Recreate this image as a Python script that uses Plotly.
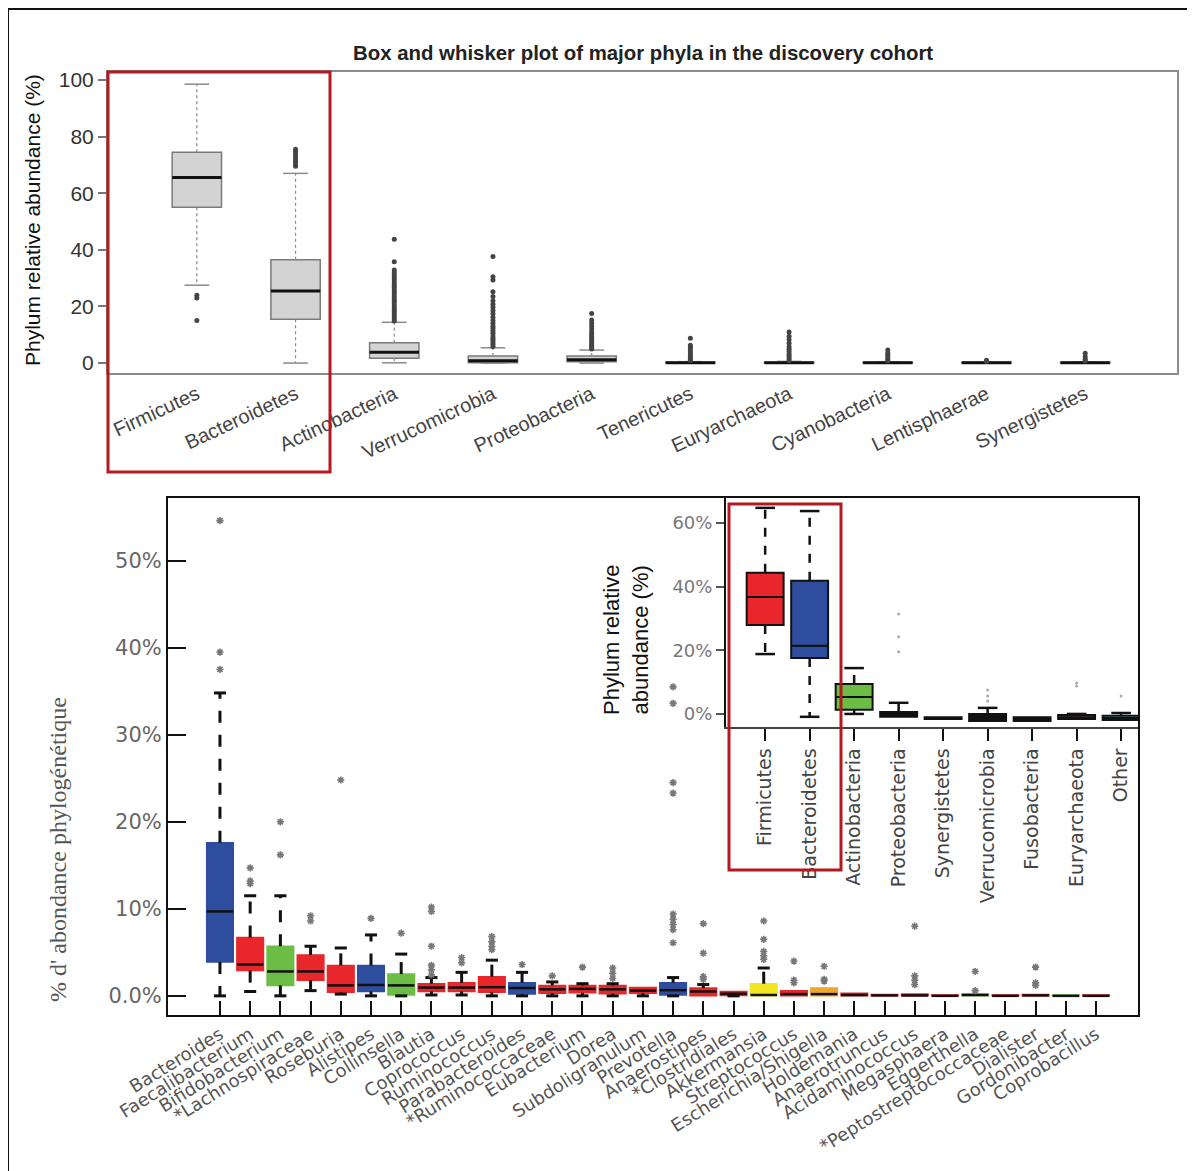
import plotly.graph_objects as go

W, H = 1195, 1171

# ---------------- top chart: discovery cohort (gray boxes) ----------------
top_phyla = ["Firmicutes", "Bacteroidetes", "Actinobacteria", "Verrucomicrobia", "Proteobacteria",
             "Tenericutes", "Euryarchaeota", "Cyanobacteria", "Lentisphaerae", "Synergistetes"]
top_q1 = [55.0, 15.5, 1.7, 0.1, 0.5, 0.0, 0.0, 0.0, 0.0, 0.0]
top_med = [65.5, 25.5, 3.8, 0.8, 1.2, 0.1, 0.1, 0.1, 0.1, 0.1]
top_q3 = [74.5, 36.5, 7.2, 2.5, 2.5, 0.3, 0.3, 0.3, 0.3, 0.3]
top_lo = [27.5, 0.0, 0.1, 0.0, 0.0, 0.0, 0.0, 0.0, 0.0, 0.0]
top_hi = [98.5, 67.0, 14.4, 5.4, 4.6, 0.5, 0.6, 0.4, 0.3, 0.4]
top_out = [
    [24.0, 23.0, 15.0],
    [69.5, 70.4, 71.3, 72.2, 73.0, 73.9, 74.8, 75.5],
    [14.9, 15.6, 16.4, 17.1, 17.9, 18.6, 19.4, 20.2, 21.0, 21.8, 22.5, 23.3, 24.1, 25.0,
     25.8, 26.7, 27.5, 28.4, 29.3, 30.1, 31.0, 32.0, 32.9, 35.8, 43.7],
    [5.9, 6.6, 7.3, 8.1, 8.8, 9.6, 10.5, 11.3, 12.2, 13.0, 14.1, 15.0, 16.2, 17.4, 18.6,
     19.7, 20.8, 22.0, 23.5, 25.2, 29.3, 30.5, 37.6],
    [5.0, 5.6, 6.3, 7.0, 7.8, 8.5, 9.3, 10.1, 11.0, 12.0, 13.1, 14.2, 15.2, 17.5],
    [0.9, 1.4, 2.0, 2.7, 3.3, 4.0, 4.8, 5.6, 6.3, 8.8],
    [0.8, 1.5, 2.3, 3.1, 4.0, 4.9, 5.8, 7.0, 8.2, 9.5, 11.0],
    [0.7, 1.3, 2.0, 2.8, 3.5, 4.6],
    [0.6, 1.0],
    [0.7, 1.4, 2.2, 3.5],
]
top_ticks = [0, 20, 40, 60, 80, 100]

# ---------------- bottom main chart: genera ----------------
genera = ["Bacteroides", "Faecalibacterium", "Bifidobacterium", "*Lachnospiraceae", "Roseburia",
          "Alistipes", "Collinsella", "Blautia", "Coprococcus", "Ruminococcus",
          "Parabacteroides", "*Ruminococcaceae", "Eubacterium", "Dorea", "Subdoligranulum",
          "Prevotella", "Anaerostipes", "*Clostridiales", "Akkermansia", "Streptococcus",
          "Escherichia/Shigella", "Holdemania", "Anaerotruncus", "Acidaminococcus", "Megasphaera",
          "Eggerthella", "*Peptostreptococcaceae", "Dialister", "Gordonibacter", "Coprobacillus"]
genus_phylum = ["Bacteroidetes", "Firmicutes", "Actinobacteria", "Firmicutes", "Firmicutes",
                "Bacteroidetes", "Actinobacteria", "Firmicutes", "Firmicutes", "Firmicutes",
                "Bacteroidetes", "Firmicutes", "Firmicutes", "Firmicutes", "Firmicutes",
                "Bacteroidetes", "Firmicutes", "Firmicutes", "Verrucomicrobia", "Firmicutes",
                "Proteobacteria", "Firmicutes", "Firmicutes", "Firmicutes", "Firmicutes",
                "Actinobacteria", "Firmicutes", "Firmicutes", "Actinobacteria", "Firmicutes"]
gen_q1 = [3.9, 2.9, 1.2, 1.8, 0.4, 0.5, 0.1, 0.5, 0.5, 0.4, 0.2, 0.3, 0.35, 0.25, 0.3,
          0.1, 0.0, 0.05, 0.0, 0.0, 0.0, 0.0, 0.0, 0.0, 0.0, 0.0, 0.0, 0.0, 0.0, 0.0]
gen_med = [9.7, 3.6, 2.8, 2.8, 1.2, 1.25, 1.2, 0.95, 0.95, 1.0, 0.9, 0.75, 0.8, 0.75, 0.6,
           0.65, 0.5, 0.25, 0.1, 0.2, 0.2, 0.1, 0.05, 0.05, 0.0, 0.1, 0.0, 0.05, 0.0, 0.0]
gen_q3 = [17.6, 6.7, 5.7, 4.7, 3.5, 3.5, 2.5, 1.4, 1.5, 2.2, 1.5, 1.2, 1.2, 1.2, 0.95,
          1.5, 0.9, 0.5, 1.4, 0.6, 0.9, 0.3, 0.15, 0.2, 0.1, 0.2, 0.1, 0.15, 0.1, 0.1]
gen_lo = [0.0, 0.5, 0.0, 0.6, 0.2, 0.0, 0.0, 0.1, 0.1, 0.0, 0.0, 0.0, 0.0, 0.0, 0.0,
          0.0, 0.0, 0.0, 0.0, 0.0, 0.0, 0.0, 0.0, 0.0, 0.0, 0.0, 0.0, 0.0, 0.0, 0.0]
gen_hi = [34.8, 11.5, 11.5, 5.7, 5.5, 7.0, 4.8, 2.1, 2.7, 4.1, 2.7, 1.6, 1.4, 1.4, 0.95,
          2.1, 1.3, 0.5, 3.2, 0.6, 0.9, 0.3, 0.15, 0.2, 0.1, 0.2, 0.1, 0.15, 0.1, 0.1]
gen_out = [
    [54.6, 39.5, 37.5], [14.7, 13.2, 12.9], [20.0, 16.2], [9.2, 8.6], [24.8],
    [8.9], [7.2], [10.2, 9.7, 5.7, 3.5, 3.0, 2.4], [4.4, 3.8], [6.8, 6.2, 5.7, 5.3],
    [3.6], [2.3], [3.3], [3.2, 2.6, 2.0], [],
    [35.5, 33.6, 24.5, 23.3, 9.4, 8.8, 8.2, 7.6, 6.1], [8.3, 4.9, 2.2, 1.9], [],
    [8.6, 6.5, 5.1, 4.6, 4.2], [4.0, 1.8, 1.5],
    [3.4, 1.9, 1.7], [], [], [8.0, 2.3, 1.8, 1.3], [],
    [2.8, 0.6], [], [3.3, 1.5, 1.2], [], [],
]
gen_ticks = [0, 10, 20, 30, 40, 50]
gen_ticktext = ["0.0%", "10%", "20%", "30%", "40%", "50%"]

# ---------------- inset chart: phyla ----------------
ins_phyla = ["Firmicutes", "Bacteroidetes", "Actinobacteria", "Proteobacteria", "Synergistetes",
             "Verrucomicrobia", "Fusobacteria", "Euryarchaeota", "Other"]
ins_q1 = [27.9, 17.6, 1.3, -0.9, -1.6, -2.2, -2.2, -1.6, -1.9]
ins_med = [36.7, 21.4, 5.3, 0.0, -1.3, -0.5, -1.6, -1.0, -1.3]
ins_q3 = [44.3, 41.8, 9.4, 0.6, -1.0, 0.0, -1.0, -0.3, -0.6]
ins_lo = [18.8, -0.9, 0.0, -0.9, -1.6, -2.2, -2.2, -1.6, -1.9]
ins_hi = [64.7, 63.7, 14.4, 3.5, -1.0, 1.9, -1.0, 0.0, 0.3]
ins_out = [[], [], [], [31.4, 24.2, 19.5], [], [7.5, 5.6, 4.1], [], [9.7, 8.8], [5.6]]
ins_ticks = [0, 20, 40, 60]
ins_ticktext = ["0%", "20%", "40%", "60%"]

phylum_color = {"Firmicutes": "#e8262b", "Bacteroidetes": "#2f4d9e", "Actinobacteria": "#6cbd45",
                "Verrucomicrobia": "#f2e522", "Proteobacteria": "#f0a52e"}
ins_fill = ["#e8262b", "#2f4d9e", "#6cbd45", "#111111", "#8d3fb5", "#111111", "#1e7f3a",
            "#f4a6c8", "#4fd0e0"]

# the page body keeps an 8px margin: figure pixel = page pixel - 8
OFF = 8


def fx(p):
    return (p - OFF) / W


def fy(p):
    return 1 - (p - OFF) / H


fig = go.Figure()


def draw_boxes(xa, ya, q1, med, q3, lo, hi, outs, fills, lines, bw, cw, lw,
               med_w, wh_color, wh_w, wh_dash, cap_w, out_marker):
    n = len(q1)
    for i in range(n):
        fig.add_trace(go.Box(
            x=[i], q1=[q1[i]], median=[med[i]], q3=[q3[i]],
            lowerfence=[q1[i]], upperfence=[q3[i]], orientation="v",
            width=bw, whiskerwidth=0, fillcolor=fills[i],
            line=dict(color=lines[i], width=lw), boxpoints=False,
            xaxis=xa, yaxis=ya, showlegend=False, hoverinfo="skip"))
    mx, my, wx, wy, cx, cy, ox, oy = [], [], [], [], [], [], [], []
    for i in range(n):
        mx += [i - bw / 2, i + bw / 2, None]
        my += [med[i], med[i], None]
        if hi[i] > q3[i]:
            wx += [i, i, None]
            wy += [q3[i], hi[i], None]
            cx += [i - cw / 2, i + cw / 2, None]
            cy += [hi[i], hi[i], None]
        if lo[i] < q1[i]:
            wx += [i, i, None]
            wy += [q1[i], lo[i], None]
            cx += [i - cw / 2, i + cw / 2, None]
            cy += [lo[i], lo[i], None]
        for v in outs[i]:
            ox.append(i)
            oy.append(v)
    fig.add_trace(go.Scatter(x=wx, y=wy, mode="lines", xaxis=xa, yaxis=ya,
                             line=dict(color=wh_color, width=wh_w, dash=wh_dash),
                             showlegend=False, hoverinfo="skip"))
    fig.add_trace(go.Scatter(x=cx, y=cy, mode="lines", xaxis=xa, yaxis=ya,
                             line=dict(color=wh_color, width=cap_w),
                             showlegend=False, hoverinfo="skip"))
    fig.add_trace(go.Scatter(x=mx, y=my, mode="lines", xaxis=xa, yaxis=ya,
                             line=dict(color="#111111", width=med_w),
                             showlegend=False, hoverinfo="skip"))
    fig.add_trace(go.Scatter(x=ox, y=oy, mode="markers", xaxis=xa, yaxis=ya,
                             marker=out_marker, showlegend=False, hoverinfo="skip"))


# top chart
draw_boxes("x", "y", top_q1, top_med, top_q3, top_lo, top_hi, top_out,
           ["#d3d3d3"] * len(top_q1), ["#7a7a7a"] * len(top_q1),
           0.5, 0.25, 1.5, 3, "#8a8a8a", 1.2, "dot", 1.5,
           dict(size=5, color="#444444"))

# bottom main chart
gen_colors = [phylum_color[p] for p in genus_phylum]
draw_boxes("x2", "y2", gen_q1, gen_med, gen_q3, gen_lo, gen_hi, gen_out,
           gen_colors, gen_colors, 0.88, 0.4, 1.5, 2.5, "#111111", 3, "12px,12px", 3,
           dict(size=6, symbol="asterisk-open", color="#777777",
                line=dict(color="#777777", width=1.6)))

# inset chart
draw_boxes("x3", "y3", ins_q1, ins_med, ins_q3, ins_lo, ins_hi, ins_out,
           ins_fill, ["#111111"] * len(ins_q1), 0.83, 0.44, 2, 1.5, "#111111", 2.5, "9px,9px", 2.5,
           dict(size=3, color="#aaaaaa"))

fig.update_layout(
    template="none",
    width=W, height=H, autosize=False,
    margin=dict(l=0, r=0, t=0, b=0, autoexpand=False),
    paper_bgcolor="white", plot_bgcolor="rgba(0,0,0,0)",
    font=dict(family="Liberation Sans, Arial, sans-serif", color="#333333"),
    boxmode="overlay",
    xaxis=dict(domain=[fx(108), fx(1177)], range=[-0.9, 9.93], anchor="y", automargin=False,
               tickmode="array", tickvals=list(range(len(top_phyla))), ticktext=top_phyla,
               tickangle=-25, ticks="", showgrid=False, zeroline=False,
               showline=True, mirror=True, linecolor="#8c8c8c", linewidth=2,
               tickfont=dict(size=20, color="#444444")),
    yaxis=dict(domain=[fy(373), fy(72)], range=[-3.5, 102.8], anchor="x", automargin=False,
               tickmode="array", tickvals=top_ticks, ticks="outside", ticklen=8,
               tickcolor="#777777", tickwidth=1.5, showgrid=False, zeroline=False,
               showline=True, mirror=True, linecolor="#8c8c8c", linewidth=2,
               tickfont=dict(size=21, color="#333333")),
    xaxis2=dict(domain=[fx(168), fx(1138)], range=[-1.72, 30.39], anchor="y2", automargin=False,
                tickmode="array", tickvals=list(range(len(genera))), ticktext=genera,
                tickangle=-32, ticks="inside", ticklen=14, tickwidth=2, tickcolor="#111111",
                showgrid=False, zeroline=False, showline=True, mirror=True,
                linecolor="#111111", linewidth=2,
                tickfont=dict(family="DejaVu Sans, sans-serif", size=18, color="#555555")),
    yaxis2=dict(domain=[fy(1015), fy(498)], range=[-2.2, 57.2], anchor="x2", automargin=False,
                tickmode="array", tickvals=gen_ticks, ticktext=gen_ticktext,
                ticks="inside", ticklen=18, tickwidth=2, tickcolor="#111111",
                showgrid=False, zeroline=False, showline=True, mirror=True,
                linecolor="#111111", linewidth=2,
                tickfont=dict(family="DejaVu Sans, sans-serif", size=21, color="#666666")),
    xaxis3=dict(domain=[fx(726), fx(1138)], range=[-0.88, 8.38], anchor="y3", automargin=False,
                tickmode="array", tickvals=list(range(len(ins_phyla))), ticktext=ins_phyla,
                tickangle=-90, ticks="outside", ticklen=12, tickwidth=2, tickcolor="#111111",
                showgrid=False, zeroline=False, showline=True, mirror=False,
                linecolor="#444444", linewidth=1.5,
                tickfont=dict(family="DejaVu Sans, sans-serif", size=19, color="#444444")),
    yaxis3=dict(domain=[fy(727), fy(498)], range=[-4.1, 67.8], anchor="x3", automargin=False,
                tickmode="array", tickvals=ins_ticks, ticktext=ins_ticktext,
                ticks="outside", ticklen=8, tickwidth=1.5, tickcolor="#555555",
                showgrid=False, zeroline=False, showline=True, mirror=False,
                linecolor="#111111", linewidth=2,
                tickfont=dict(family="DejaVu Sans, sans-serif", size=18, color="#777777")),
)

annotations = [
    dict(text="<b>Box and whisker plot of major phyla in the discovery cohort</b>",
         x=fx(643), y=fy(53), font=dict(size=20.4, color="#222222")),
    dict(text="Phylum relative abundance (%)", x=fx(33), y=fy(220), textangle=-90,
         font=dict(size=21, color="#111111")),
    dict(text="% d' abondance phylogénétique", x=fx(58), y=fy(850), textangle=-90,
         font=dict(family="Liberation Serif, serif", size=24, color="#555555")),
    dict(text="Phylum relative<br>abundance (%)", x=fx(626), y=fy(640), textangle=-90,
         font=dict(size=22, color="#111111")),
]
for a in annotations:
    a.update(xref="paper", yref="paper", xanchor="center", yanchor="middle", showarrow=False)
fig.update_layout(annotations=annotations)

shapes = [
    dict(type="line", x0=fx(8), x1=fx(8), y0=fy(9), y1=fy(H + 20), line=dict(color="#111111", width=2)),
    dict(type="line", x0=fx(8), x1=fx(1194), y0=fy(9), y1=fy(9), line=dict(color="#111111", width=2)),
    dict(type="line", x0=fx(1193), x1=fx(1193), y0=fy(9), y1=fy(H + 20), line=dict(color="#aaaaaa", width=2)),
    dict(type="rect", x0=fx(108), x1=fx(330), y0=fy(72), y1=fy(472), line=dict(color="#b3191f", width=3)),
    dict(type="rect", x0=fx(729), x1=fx(841), y0=fy(504), y1=fy(870), line=dict(color="#b3191f", width=3)),
]
for s in shapes:
    s.update(xref="paper", yref="paper", layer="above")
fig.update_layout(shapes=shapes)

fig.write_html("out.html")
